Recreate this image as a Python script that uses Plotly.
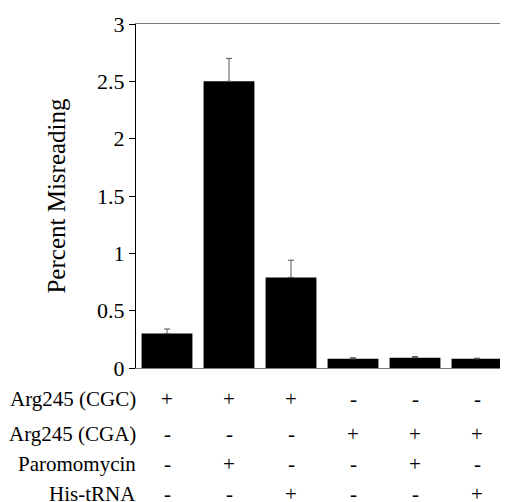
import plotly.graph_objects as go

conditions = ["C1", "C2", "C3", "C4", "C5", "C6"]
values = [0.30, 2.50, 0.79, 0.08, 0.09, 0.08]
errors = [0.04, 0.20, 0.15, 0.01, 0.01, 0.005]

row_labels = ["Arg245 (CGC)", "Arg245 (CGA)", "Paromomycin", "His-tRNA"]
row_values = [
    ["+", "+", "+", "-", "-", "-"],
    ["-", "-", "-", "+", "+", "+"],
    ["-", "+", "-", "-", "+", "-"],
    ["-", "-", "+", "-", "-", "+"],
]
y_ticks = [0, 0.5, 1, 1.5, 2, 2.5, 3]
y_ticktext = ["0", "0.5", "1", "1.5", "2", "2.5", "3"]

FONT = "Liberation Serif, Times New Roman, serif"

# page body has an 8px margin; compensate so the plot lands where the reference has it
OFF = 8
W, H = 508 - OFF, 502 - OFF
plot_top, plot_bottom = 24 - OFF, 368 - OFF
plot_left = 136 - OFF
ph = plot_bottom - plot_top

fig = go.Figure()
fig.add_trace(go.Bar(
    x=conditions, y=values,
    marker=dict(color="black", line=dict(width=0)),
    error_y=dict(type="data", array=errors, arrayminus=[0] * len(errors),
                 symmetric=False, color="#555555", thickness=1, width=3),
))

row_pix = [399, 434, 464, 494]
annotations = []
for lbl, vals, yp in zip(row_labels, row_values, row_pix):
    yy = (plot_bottom - (yp - OFF)) / ph
    annotations.append(dict(text=lbl, xref="paper", yref="paper", x=0, y=yy,
                            xanchor="right", yanchor="middle", showarrow=False,
                            xshift=2, font=dict(family=FONT, size=21, color="black")))
    for c, v in zip(conditions, vals):
        annotations.append(dict(text=v, xref="x", yref="paper", x=c, y=yy,
                                xanchor="center", yanchor="middle", showarrow=False,
                                font=dict(family=FONT, size=21, color="black")))

fig.update_layout(
    width=W, height=H,
    margin=dict(l=plot_left, r=0, t=plot_top, b=H - plot_bottom),
    plot_bgcolor="white", paper_bgcolor="white",
    bargap=0.18, showlegend=False,
    font=dict(family=FONT, size=20, color="black"),
    annotations=annotations,
)
fig.update_xaxes(showticklabels=False, ticks="", showline=True, mirror=True,
                 linecolor="#777777", linewidth=1, showgrid=False,
                 range=[-0.5, 5.5])
fig.update_yaxes(range=[0, 3], tickvals=y_ticks, ticktext=y_ticktext,
                 ticks="outside", ticklen=6, tickcolor="black",
                 showline=True, linecolor="black", linewidth=1, showgrid=False,
                 zeroline=False,
                 title=dict(text="Percent Misreading", standoff=24,
                            font=dict(family=FONT, size=25)),
                 tickfont=dict(family=FONT, size=22))

fig.write_html("out.html")
